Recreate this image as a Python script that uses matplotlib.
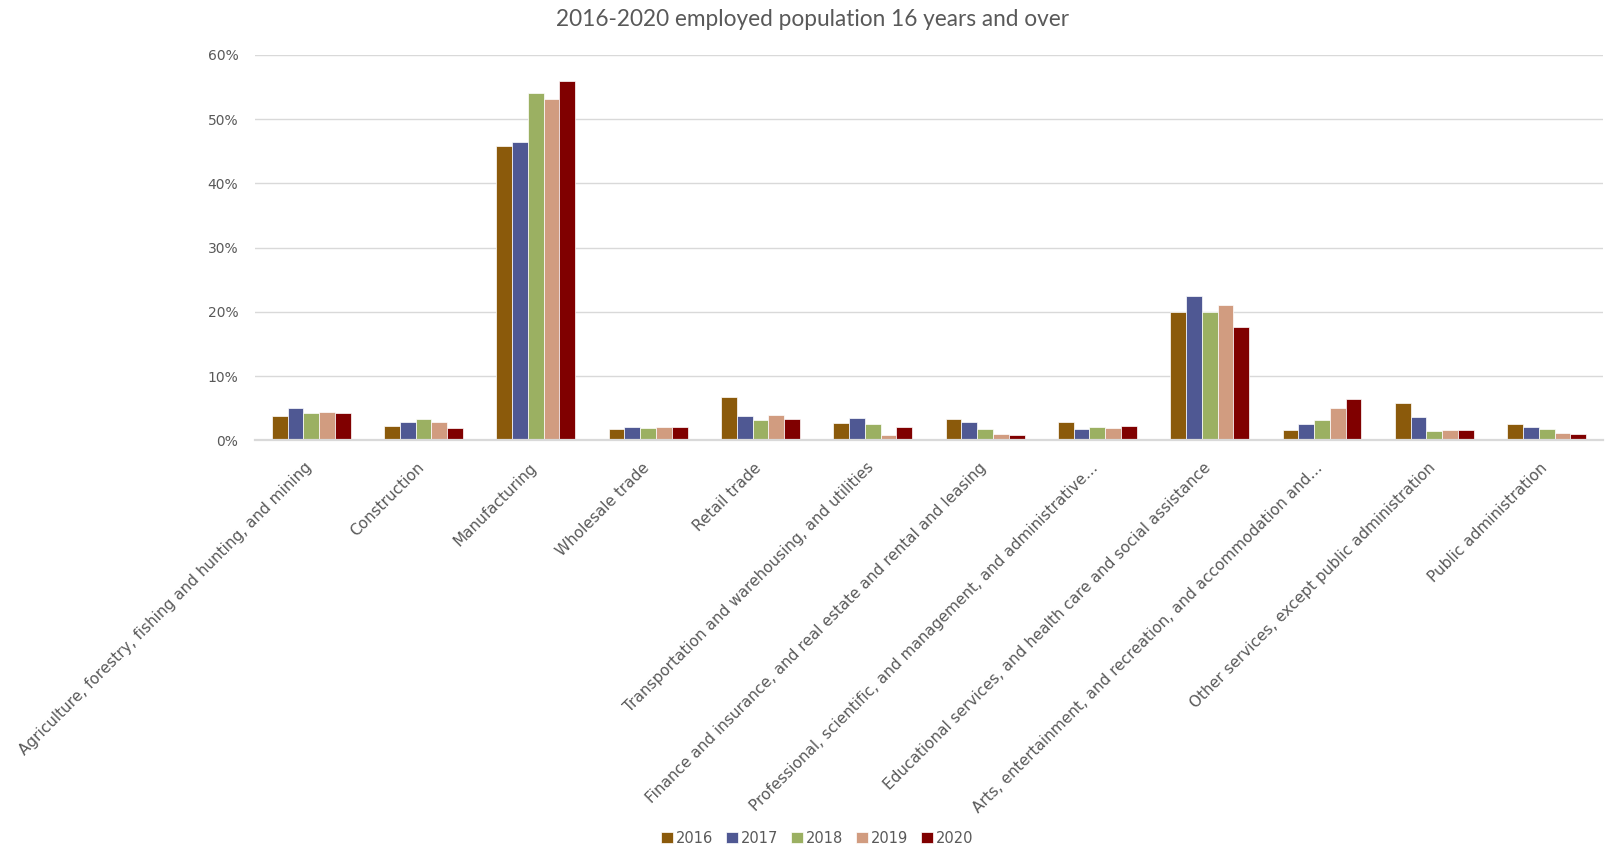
import numpy as np
import matplotlib
matplotlib.use('Agg')
import matplotlib.pyplot as plt
from matplotlib.ticker import FuncFormatter
from matplotlib.transforms import ScaledTranslation

TEXT = '#595959'
GRID = '#d9d9d9'

industries = [
    'Agriculture, forestry, fishing and hunting, and mining',
    'Construction',
    'Manufacturing',
    'Wholesale trade',
    'Retail trade',
    'Transportation and warehousing, and utilities',
    'Finance and insurance, and real estate and rental and leasing',
    'Professional, scientific, and management, and administrative\u2026',
    'Educational services, and health care and social assistance',
    'Arts, entertainment, and recreation, and accommodation and\u2026',
    'Other services, except public administration',
    'Public administration',
]

years = ['2016', '2017', '2018', '2019', '2020']
colors = ['#8b5a0b', '#4f5893', '#9bb062', '#d19c80', '#800000']

# share of employed population by industry (percent)
y2016 = [3.8, 2.2, 45.8, 1.8, 6.7, 2.7, 3.3, 2.9, 19.9, 1.6, 5.8, 2.5]
y2017 = [5.0, 2.9, 46.5, 2.0, 3.8, 3.5, 2.9, 1.7, 22.5, 2.5, 3.6, 2.1]
y2018 = [4.3, 3.3, 54.1, 1.9, 3.1, 2.5, 1.8, 2.0, 19.9, 3.1, 1.5, 1.8]
y2019 = [4.4, 2.8, 53.2, 2.0, 3.9, 0.8, 1.0, 1.9, 21.1, 5.1, 1.6, 1.1]
y2020 = [4.3, 1.9, 56.0, 2.0, 3.3, 2.0, 0.9, 2.2, 17.6, 6.5, 1.6, 1.0]
series = [y2016, y2017, y2018, y2019, y2020]

fig = plt.figure(figsize=(16.06, 8.5), dpi=100, facecolor='white')
ax = fig.add_axes([0.1588, 0.482, 0.8392, 0.4535])

x = np.arange(len(industries))
w = 0.1405
for k, (vals, c, lab) in enumerate(zip(series, colors, years)):
    ax.bar(x + (k - 2) * w, np.array(vals) / 100, width=w, color=c,
           edgecolor='white', linewidth=0.5, label=lab, zorder=3)

ax.set_xlim(-0.5, len(industries) - 0.5)
ax.set_ylim(0, 0.6)
ax.set_yticks(np.arange(0, 0.61, 0.1))
ax.yaxis.set_major_formatter(FuncFormatter(lambda v, _: f'{v*100:.0f}%'))
ax.grid(axis='y', color=GRID, linewidth=1, zorder=0)

for s in ('top', 'right', 'left'):
    ax.spines[s].set_visible(False)
ax.spines['bottom'].set_color(GRID)
ax.spines['bottom'].set_linewidth(1.6)
ax.spines['bottom'].set_zorder(4)

ax.tick_params(axis='y', length=0, pad=12, labelsize=10, labelcolor=TEXT)
ax.tick_params(axis='x', length=0, pad=18, labelsize=11, labelcolor=TEXT)
ax.set_xticks(x)
ax.set_xticklabels(industries, rotation=45, ha='right', va='center',
                   rotation_mode='anchor')
shift = ScaledTranslation(-1 / 72, 0, fig.dpi_scale_trans)
for lbl in ax.get_xticklabels():
    lbl.set_transform(lbl.get_transform() + shift)

fig.text(0.506, 0.977, '2016-2020 employed population 16 years and over',
         ha='center', va='center', color=TEXT, fontsize=16.3, family='Lato')

fig.legend(loc='center', bbox_to_anchor=(0.509, 0.014), ncol=5,
           frameon=False, fontsize=10.5, labelcolor=TEXT,
           handlelength=0.8, handleheight=0.8, handletextpad=0.2,
           columnspacing=0.9)

fig.savefig('out.png', dpi=100, facecolor='white')
